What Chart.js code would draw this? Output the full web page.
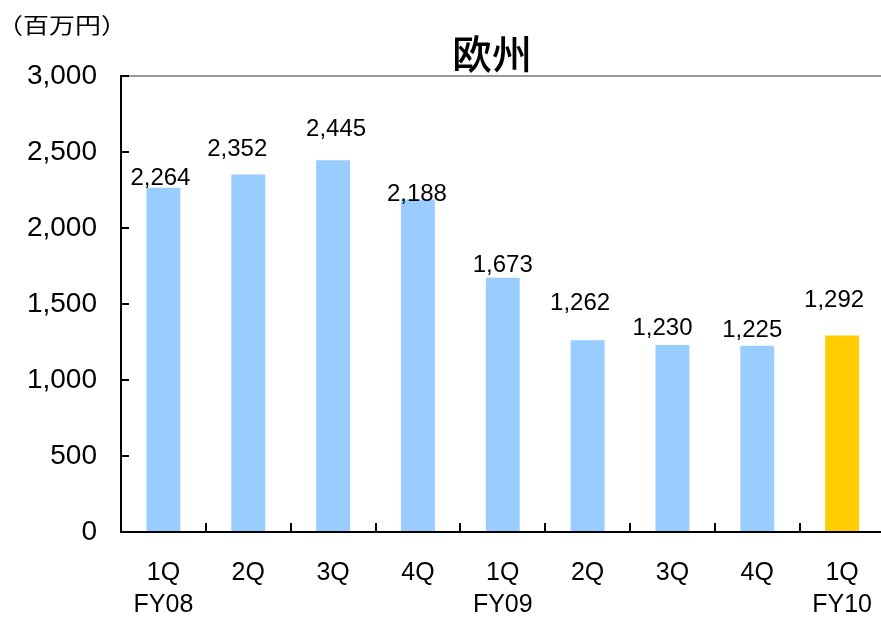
<!DOCTYPE html>
<html>
<head>
<meta charset="utf-8">
<script src="https://cdn.jsdelivr.net/npm/chart.js@4"></script>
<style>
  html, body { margin: 0; padding: 0; overflow: hidden; background: #fff; }
  #wrap { width: 897px; height: 617px; }
</style>
</head>
<body>
<div id="wrap"><canvas id="c" width="897" height="617"></canvas></div>
<script>
// ---- data ----
const quarters = ['1Q', '2Q', '3Q', '4Q', '1Q', '2Q', '3Q', '4Q', '1Q'];
const fiscalYears = ['FY08', '', '', '', 'FY09', '', '', '', 'FY10'];
const sales = [2264, 2352, 2445, 2188, 1673, 1262, 1230, 1225, 1292];
const chartTitle = '欧州';
const unitLabel = '（百万円）';
const yMin = 0, yMax = 3000, yStep = 500;

// ---- styling (not data) ----
const barColors = sales.map((v, i) => i === sales.length - 1 ? '#FFCC00' : '#99CCFF');
// label offsets in px, as placed in the original (dx from bar centre, rise of baseline above bar top)
const labelDx = [-3, -11, 3, -1, 0, -7.5, -10, -5, -8];
const labelRise = [2.6, 18.3, 24.6, -1.4, 5.3, 30.6, 9.6, 8.6, 28.6];

const labels = quarters.map((q, i) => [q, fiscalYears[i]]);
const fmt = v => v.toLocaleString('en-US');

const overlay = {
  id: 'overlay',
  afterDraw(chart) {
    const ctx = chart.ctx;
    const x = chart.scales.x, y = chart.scales.y;
    const area = chart.chartArea;
    ctx.save();
    // inside tick marks on y axis
    ctx.strokeStyle = '#000';
    ctx.lineWidth = 2;
    for (let v = yMin; v <= yMax; v += yStep) {
      const py = Math.round(y.getPixelForValue(v));
      ctx.beginPath();
      ctx.moveTo(area.left, py);
      ctx.lineTo(area.left + 8, py);
      ctx.stroke();
    }
    // inside tick marks on x axis at category boundaries
    for (let i = 0; i < quarters.length - 1; i++) {
      const px = Math.round((x.getPixelForValue(i) + x.getPixelForValue(i + 1)) / 2);
      ctx.beginPath();
      ctx.moveTo(px, area.bottom);
      ctx.lineTo(px, area.bottom - 9);
      ctx.stroke();
    }
    // data labels
    const meta = chart.getDatasetMeta(0);
    ctx.fillStyle = '#000';
    ctx.font = '24px "Liberation Sans", Arial, sans-serif';
    ctx.textAlign = 'center';
    ctx.textBaseline = 'alphabetic';
    meta.data.forEach((bar, i) => {
      ctx.fillText(fmt(sales[i]), bar.x + labelDx[i], bar.y - labelRise[i]);
    });
    // title
    ctx.font = '500 40px "Noto Sans CJK JP", sans-serif';
    ctx.textBaseline = 'middle';
    ctx.fillText(chartTitle, 492, 54);
    // unit label (slightly wide, as in the original)
    ctx.save();
    ctx.translate(62, 25);
    ctx.scale(1.18, 1);
    ctx.font = '22px "Noto Sans CJK JP", sans-serif';
    ctx.fillText(unitLabel, 0, 0);
    ctx.restore();
    ctx.restore();
  }
};

new Chart(document.getElementById('c'), {
  type: 'bar',
  data: {
    labels: labels,
    datasets: [{
      data: sales,
      backgroundColor: barColors,
      borderWidth: 0,
      categoryPercentage: 1.0,
      barPercentage: 0.4
    }]
  },
  options: {
    responsive: false,
    devicePixelRatio: 1,
    animation: false,
    layout: { padding: { top: 76, right: 0, bottom: 0, left: 0 } },
    plugins: { legend: { display: false }, tooltip: { enabled: false }, title: { display: false } },
    scales: {
      x: {
        grid: { display: false, drawTicks: false },
        border: { display: true, color: '#000', width: 2 },
        ticks: {
          color: '#000',
          font: { family: '"Liberation Sans", Arial, sans-serif', size: 25, lineHeight: 1.27 },
          padding: 25,
          maxRotation: 0,
          autoSkip: false
        },
        afterFit(scale) { scale.height = 85; }
      },
      y: {
        min: yMin,
        max: yMax,
        grid: {
          drawTicks: false,
          lineWidth: 2,
          color: c => (c.tick && c.tick.value === yMax) ? '#999999' : 'rgba(0,0,0,0)'
        },
        border: { display: true, color: '#000', width: 2 },
        ticks: {
          stepSize: yStep,
          color: '#000',
          font: { family: '"Liberation Sans", Arial, sans-serif', size: 28 },
          padding: 24,
          callback: v => fmt(v)
        },
        afterFit(scale) { scale.width = 121; }
      }
    }
  },
  plugins: [overlay]
});
</script>
</body>
</html>
